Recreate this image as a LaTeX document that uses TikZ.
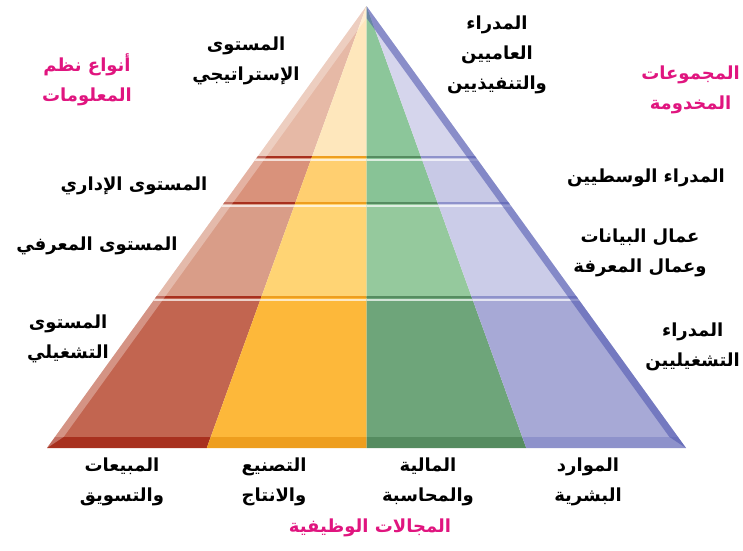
\documentclass[tikz,border=0pt]{standalone}
\usepackage{fontspec}
\newfontfamily\arabicfont[Script=Arabic]{DejaVu Sans}
\TeXXeTstate=1
\newcommand{\artxt}[1]{\beginR #1\endR}

% band colours of the four areas (A top ... D bottom, E base strip)
\definecolor{redA}{HTML}{E6B9A6}
\definecolor{redB}{HTML}{D9927B}
\definecolor{redC}{HTML}{D99D88}
\definecolor{redD}{HTML}{C26550}
\definecolor{redE}{HTML}{A8301E}
\definecolor{ornA}{HTML}{FEE7BC}
\definecolor{ornB}{HTML}{FFCF70}
\definecolor{ornC}{HTML}{FFD474}
\definecolor{ornD}{HTML}{FDB83A}
\definecolor{ornE}{HTML}{EE9E1E}
\definecolor{grnA}{HTML}{8CC69A}
\definecolor{grnB}{HTML}{88C396}
\definecolor{grnC}{HTML}{95C99D}
\definecolor{grnD}{HTML}{6EA57A}
\definecolor{grnE}{HTML}{558C60}
\definecolor{bluA}{HTML}{D5D5EC}
\definecolor{bluB}{HTML}{C8C9E6}
\definecolor{bluC}{HTML}{CBCCE8}
\definecolor{bluD}{HTML}{A7A9D6}
\definecolor{bluE}{HTML}{8E92CB}
\definecolor{bevelblue}{HTML}{4B53AE}
\definecolor{pinktxt}{HTML}{E0157F}

\tikzset{
  lbl/.style={font=\arabicfont\bfseries\fontsize{18}{30}\selectfont, align=center, text=black, inner sep=0pt},
  grp/.style={lbl, text=pinktxt},
}

\begin{document}
\begin{tikzpicture}[x=1pt,y=-1pt]
  \useasboundingbox (0,0) rectangle (743,550);

  \coordinate (top) at (366.5,6);
  \coordinate (b0) at (47,448);
  \coordinate (b1) at (206.75,448);
  \coordinate (b2) at (366.5,448);
  \coordinate (b3) at (526.25,448);
  \coordinate (b4) at (686,448);
  \coordinate (itop) at (366.5,18);
  \coordinate (il) at (63.6,437);
  \coordinate (ir) at (669.4,437);

  % four areas, four levels
  \foreach \i/\j/\cl in {0/1/red,1/2/orn,2/3/grn,3/4/blu} {
    \begin{scope}
      \clip (top) -- (b\i) -- (b\j) -- cycle;
      \fill[\cl A] (0,0) rectangle (743,157);
      \fill[\cl B] (0,157) rectangle (743,203);
      \fill[\cl C] (0,203) rectangle (743,297);
      \fill[\cl D] (0,297) rectangle (743,437);
      \fill[\cl E] (0,437) rectangle (743,449);
      \foreach \y in {157,203,297} {
        \draw[\cl E, line width=2.2pt] (0,\y) -- (743,\y);
        \draw[white, opacity=0.7, line width=1.5pt] (0,\y+2.8) -- (743,\y+2.8);
      }
    \end{scope}
  }

  % bevels
  \fill[white, opacity=0.3] (top) -- (b0) -- (il) -- (itop) -- cycle;
  \fill[bevelblue, opacity=0.55] (top) -- (b4) -- (ir) -- (itop) -- cycle;

  % left side
  \node[grp] (infosys) at (87,80) {\artxt{أنواع نظم}\\\artxt{المعلومات}};
  \node[lbl] (strat) at (246,61) {\artxt{المستوى}\\\artxt{الإستراتيجي}};
  \node[lbl] (mgmt) at (134,186) {\artxt{المستوى الإداري}};
  \node[lbl] (know) at (97,246) {\artxt{المستوى المعرفي}};
  \node[lbl] (oper) at (68,339) {\artxt{المستوى}\\\artxt{التشغيلي}};

  % right side
  \node[lbl] (senior) at (497,55) {\artxt{المدراء}\\\artxt{العاميين}\\\artxt{والتنفيذيين}};
  \node[grp, anchor=east] (groups) at (740,90) {\artxt{المجموعات}\\\artxt{المخدومة}};
  \node[lbl] (middle) at (646,178) {\artxt{المدراء الوسطيين}};
  \node[lbl] (workers) at (640,253) {\artxt{عمال البيانات}\\\artxt{وعمال المعرفة}};
  \node[lbl, anchor=east] (opmgr) at (740,347) {\artxt{المدراء}\\\artxt{التشغيليين}};

  % bottom
  \node[lbl] (sales) at (122,482) {\artxt{المبيعات}\\\artxt{والتسويق}};
  \node[lbl] (prod) at (274,482) {\artxt{التصنيع}\\\artxt{والانتاج}};
  \node[lbl] (fin) at (428,482) {\artxt{المالية}\\\artxt{والمحاسبة}};
  \node[lbl] (hr) at (588,482) {\artxt{الموارد}\\\artxt{البشرية}};
  \node[grp] (areas) at (370,528) {\artxt{المجالات الوظيفية}};
\end{tikzpicture}
\end{document}
